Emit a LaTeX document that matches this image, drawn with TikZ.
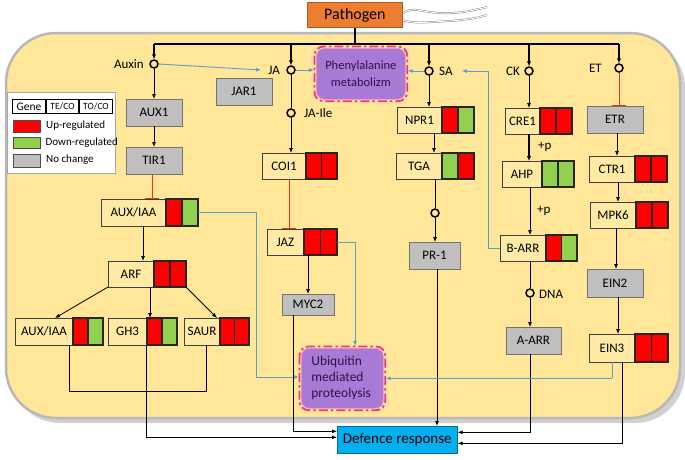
\documentclass[tikz,border=0pt]{standalone}
\usepackage{fontspec}
\setmainfont{Carlito}
\usetikzlibrary{arrows.meta,calc}
\definecolor{bgc}{RGB}{255,230,153}
\definecolor{labc}{RGB}{255,234,165}
\definecolor{grayc}{RGB}{191,191,191}
\definecolor{redc}{RGB}{255,0,0}
\definecolor{greenc}{RGB}{146,208,80}
\definecolor{purpc}{RGB}{167,122,214}
\definecolor{magc}{RGB}{240,50,140}
\definecolor{bluc}{RGB}{90,160,205}
\definecolor{defc}{RGB}{0,176,240}
\definecolor{patc}{RGB}{237,125,49}
\definecolor{patb}{RGB}{174,90,33}
\definecolor{inhc}{RGB}{225,50,30}
\definecolor{ptxt}{RGB}{45,20,70}
\newcommand\genebox[9]{%
  \node[lab,minimum width=#4pt,minimum height=#6pt,anchor=north west] (#1) at (#2,#3) {#7};
  \node[cellx,fill=#8,minimum width=#5pt,minimum height=#6pt,anchor=west] (#1a) at (#1.east) {};
  \node[cellx,fill=#9,minimum width=#5pt,minimum height=#6pt,anchor=west] (#1b) at (#1a.east) {};
}
\newcommand\graybox[6]{%
  \node[gbx,minimum width=#4pt,minimum height=#5pt,anchor=north west] (#1) at (#2,#3) {#6};
}
\begin{document}
\begin{tikzpicture}[x=1pt,y=-1pt,
  lab/.style={draw=black!75,line width=0.8pt,fill=labc,inner sep=0pt,outer sep=0pt,font=\fontsize{13}{15}\selectfont},
  cellx/.style={draw=black!85,line width=1.1pt,inner sep=0pt,outer sep=0pt},
  gbx/.style={draw=black!55,line width=0.8pt,fill=grayc,inner sep=0pt,outer sep=0pt,font=\fontsize{13}{15}\selectfont},
  arr/.style={-{Latex[length=5pt,width=4pt]},line width=0.8pt},
  tarr/.style={-{Latex[length=5pt,width=4.5pt]},line width=1.3pt},
  ln/.style={line width=0.8pt},
  inh/.style={-{Bar[width=14pt,line width=1.1pt]},draw=inhc,line width=1pt},
  blu/.style={draw=bluc,line width=0.9pt,-{Latex[length=5pt,width=4pt]}},
  bln/.style={draw=bluc,line width=0.9pt},
  circ/.style={circle,draw,line width=1.5pt,fill=bgc,minimum size=8pt,inner sep=0pt},
  txt/.style={font=\fontsize{13}{15}\selectfont,inner sep=1pt},
  purp/.style={draw=magc!55,line width=0.7pt,fill=purpc,rounded corners=8pt,inner sep=0pt,font=\fontsize{12.5}{17}\selectfont,text=ptxt},
  pdash/.style={draw=magc,line width=1.8pt,dash pattern=on 9pt off 3pt on 2.5pt off 3pt,rounded corners=9pt},
  legt/.style={font=\fontsize{11}{13}\selectfont,inner sep=1pt,anchor=west}
]
\useasboundingbox (0,0) rectangle (685,459);
% cell
\fill[black!18,rounded corners=50pt] (10,38) rectangle (685,423);
\draw[draw=black!28,line width=2.5pt,fill=bgc,rounded corners=50pt] (6,33) rectangle (680,418);
% pathogen
\node[draw=patb,line width=0.8pt,fill=patc,minimum width=95pt,minimum height=25pt,anchor=north west,inner sep=0pt,font=\fontsize{16}{18}\selectfont] (pat) at (307,2) {Pathogen};
\coordinate (fl1) at (487,7);
\coordinate (fl2) at (487,15);
\draw[black!45,double=white,double distance=0.9pt,line width=0.5pt] ([yshift=1.5pt]pat.east) .. controls (412,6) and (420,12) .. (440,13) .. controls (460,14) and (475,10) .. (fl1);
\draw[black!45,double=white,double distance=0.9pt,line width=0.5pt] ([yshift=-5.5pt]pat.east) .. controls (415,24) and (430,22) .. (450,21) .. controls (465,20) and (478,18) .. (fl2);
% bus
\coordinate (b1) at (154,44);
\coordinate (b2) at (291,44);
\coordinate (b3) at (429,44);
\coordinate (b4) at (529,44);
\coordinate (b5) at (619,44);
\draw[line width=1.4pt] (b1) -- (b5);
\draw[line width=1.4pt] (pat.south) -- (pat.south |- b1);
% hormone circles
\node[circ] (auxc) at (154,64) {};
\node[circ] (jac) at (291,70) {};
\node[circ] (sac) at (429,71) {};
\node[circ] (ckc) at (529,71) {};
\node[circ] (etc) at (619,68) {};
\node[circ] (jaic) at (291,113) {};
\node[circ] (tgac) at (435,213) {};
\node[circ] (dnac) at (530,293) {};
\node[txt,anchor=east] (auxl) at (145,64) {Auxin};
\node[txt,anchor=east] (jal) at (281,70) {JA};
\node[txt,anchor=west] (sal) at (438,71) {SA};
\node[txt,anchor=east] (ckl) at (521,71) {CK};
\node[txt,anchor=east] (etl) at (603,68) {ET};
\node[txt,anchor=west] (jail) at (303,113) {JA-Ile};
\node[txt,anchor=west] (dnal) at (538,294) {DNA};
\node[txt,anchor=west] (p1l) at (537,147) {+p};
\node[txt,anchor=west] (p2l) at (536,211) {+p};
\foreach \b/\c in {b1/auxc,b2/jac,b3/sac,b4/ckc,b5/etc} \draw[tarr] (\b) -- (\c);
% purple boxes
\node[purp,minimum width=89pt,minimum height=51pt,anchor=north west,align=center] (phe) at (316,48) {Phenylalanine\\metabolizm};
\draw[pdash] ([shift={(-1.5pt,1.5pt)}]phe.north west) rectangle ([shift={(1.5pt,-1.5pt)}]phe.south east);
\node[purp,minimum width=82pt,minimum height=60pt,anchor=north west,align=left,text width=62pt,inner xsep=10pt,font=\fontsize{13.5}{16}\selectfont] (ubq) at (301,348) {Ubiquitin\\mediated\\proteolysis};
\draw[pdash] ([shift={(-1.5pt,1.5pt)}]ubq.north west) rectangle ([shift={(1.5pt,-1.5pt)}]ubq.south east);
\node[draw=defc!60!black,line width=0.6pt,fill=defc,minimum width=120pt,minimum height=27pt,anchor=north west,inner sep=0pt,font=\fontsize{15}{17}\selectfont] (def) at (337,426) {Defence response};
% gene boxes
\graybox{aux1}{126}{99}{56}{27}{AUX1}
\graybox{tir1}{126}{147}{56}{27}{TIR1}
\genebox{iaaa}{101}{199}{65}{16}{27}{AUX/IAA}{redc}{greenc}
\genebox{arf}{108}{261}{46}{16}{26}{ARF}{redc}{redc}
\genebox{iaab}{15}{318}{58}{15}{27}{AUX/IAA}{redc}{greenc}
\genebox{gh}{108}{318}{39}{15}{27}{GH3}{redc}{greenc}
\genebox{saur}{184}{318}{36}{14.5}{27}{SAUR}{redc}{redc}
\graybox{jar}{216}{78}{56}{27}{JAR1}
\genebox{coi}{262}{153}{44}{15.5}{26}{COI1}{redc}{redc}
\genebox{jaz}{267}{229}{37}{16.5}{26}{JAZ}{redc}{redc}
\graybox{myc}{282}{294}{52}{21}{MYC2}
\genebox{npr}{397}{107}{45}{16}{26}{NPR1}{redc}{greenc}
\genebox{tga}{396}{153}{46}{16}{26}{TGA}{greenc}{redc}
\graybox{pr}{409}{242}{51}{27}{PR-1}
\genebox{cre}{505}{108}{35}{16}{26}{CRE1}{redc}{redc}
\genebox{ahp}{502}{161}{40}{16}{26}{AHP}{greenc}{greenc}
\genebox{barr}{500}{235}{46}{15.5}{26}{B-ARR}{redc}{greenc}
\graybox{aarr}{506}{327}{55}{27}{A-ARR}
\graybox{etr}{587}{106}{56}{27}{ETR}
\genebox{ctr}{589}{156}{46}{16}{26}{CTR1}{redc}{redc}
\genebox{mpk}{590}{202}{46}{16}{26}{MPK6}{redc}{redc}
\graybox{ein2}{587}{269}{56}{28}{EIN2}
\genebox{ein3}{589}{334}{46}{16.5}{28}{EIN3}{redc}{redc}
% legend
\node[draw=black!35,line width=1pt,fill=white,minimum width=108pt,minimum height=81pt,anchor=north west,inner sep=0pt] (leg) at (7,92) {};
\node[draw,line width=1pt,minimum width=33pt,minimum height=14pt,anchor=north west,inner sep=0pt,font=\fontsize{11.5}{12}\selectfont] (lg1) at (12,99) {Gene};
\node[draw,line width=1pt,minimum width=32pt,minimum height=14pt,anchor=west,inner sep=0pt,font=\fontsize{9.5}{11}\selectfont] (lg2) at (lg1.east) {TE/CO};
\node[draw,line width=1pt,minimum width=33pt,minimum height=14pt,anchor=west,inner sep=0pt,font=\fontsize{9.5}{11}\selectfont] (lg3) at (lg2.east) {TO/CO};
\node[draw=black!70,line width=0.6pt,fill=redc,minimum width=27pt,minimum height=12pt,anchor=north west,inner sep=0pt] (sw1) at (13,120) {};
\node[draw=black!70,line width=0.6pt,fill=greenc,minimum width=27pt,minimum height=11pt,anchor=north west,inner sep=0pt] (sw2) at (13,137) {};
\node[draw=black!70,line width=0.6pt,fill=grayc,minimum width=27pt,minimum height=13pt,anchor=north west,inner sep=0pt] (sw3) at (13,154) {};
\node[legt] (lt1) at (45,126) {Up-regulated};
\node[legt] (lt2) at (44.5,142.5) {Down-regulated};
\node[legt] (lt3) at (45,160) {No change};
% auxin branch
\draw[arr] (auxc) -- (aux1);
\draw[arr] (aux1) -- (tir1);
\coordinate (t1) at ([xshift=-2pt]tir1.south);
\draw[inh] (t1) -- (t1 |- iaaa.north);
\coordinate (ia1) at ([xshift=9.5pt]iaaa.south);
\draw[arr] (ia1) -- (ia1 |- arf.north);
\draw[arr] (arf.south west) -- ([xshift=11pt]iaab.north);
\coordinate (ar2) at ([xshift=-4pt]arf.south east);
\draw[arr] (ar2) -- (ar2 |- gh.north);
\draw[arr] (arfb.south east) -- ([xshift=15pt]saur.north);
\coordinate (sj) at (206,391);
\draw[ln] ([xshift=-4pt]iaab.south east) |- (sj) -- ([xshift=4pt]saur.south);
\draw[arr] ([xshift=-1pt]gh.south east) |- ([yshift=2.5pt]def.west);
\coordinate (ub1) at (256,377);
\draw[bln] (iaaab.east) -| (ub1);
\draw[blu] (ub1) -- ([xshift=-2pt]ub1 -| ubq.west);
% JA branch
\draw[blu] (auxc.east) -- ([xshift=-6pt]jal.west);
\draw[blu] (jac.east) -- ([xshift=-2pt]jac.east -| phe.west);
\draw[ln] (jac) -- (jaic);
\draw[arr] (jaic) -- (jaic |- coi.north);
\coordinate (c1) at ([xshift=5pt]coi.south);
\draw[inh] (c1) -- (c1 |- jaz.north);
\draw[arr] (myc.north |- jaz.south) -- (myc.north);
\coordinate (jz1) at (355,242);
\draw[bln] (jazb.east) -- (jz1);
\draw[blu] (jz1) -- ([yshift=2pt]jz1 |- ubq.north);
\draw[arr] ([xshift=-15pt]myc.south) |- ([yshift=8.5pt]def.west);
% SA branch
\draw[blu] (sac.west) -- ([xshift=2pt]sac.west -| phe.east);
\draw[arr] (sac) -- (sac |- npr.north);
\coordinate (n1) at (434,133);
\draw[arr] (n1) -- (n1 |- tga.north);
\draw[ln] (tgac |- tga.south) -- (tgac);
\draw[arr] (tgac) -- (tgac |- pr.north);
\coordinate (pr1) at ([xshift=2.5pt]pr.south);
\draw[arr] (pr1) -- (pr1 |- def.north);
% CK branch
\draw[arr] (ckc) -- (ckc |- cre.north);
\coordinate (cr1) at (529,134);
\draw[tarr] (cr1) -- (cr1 |- ahp.north);
\coordinate (ah1) at (530,187);
\draw[arr] (ah1) -- (ah1 |- barr.north);
\draw[ln] (dnac |- barr.south) -- (dnac);
\draw[arr] (dnac) -- (dnac |- aarr.north);
\coordinate (bs) at (488,71);
\draw[bln] (barr.west) -| (bs);
\draw[blu] (bs) -- ([xshift=8pt]sal.east);
\draw[arr] ([xshift=-3.5pt]aarr.south) |- ([yshift=7.5pt]def.east);
% ET branch
\draw[inh] (etc) -- (etc |- etr.north);
\coordinate (et1) at (617,133);
\draw[arr] (et1) -- (et1 |- ctr.north);
\coordinate (ct1) at (618,182);
\draw[arr] (ct1) -- (ct1 |- mpk.north);
\coordinate (mk1) at (616,228);
\draw[arr] (mk1) -- (mk1 |- ein2.north);
\coordinate (e2) at (618,297);
\draw[arr] (e2) -- (e2 |- ein3.north);
\draw[arr] ([xshift=10pt]ein3.south) |- ([yshift=-3.5pt]def.east);
\draw[bln] (ein3.south) |- (ubq.east -| ein3.south);
\draw[blu] (ubq.east -| ein3.south) -- ([xshift=2pt]ubq.east);
\end{tikzpicture}
\end{document}
